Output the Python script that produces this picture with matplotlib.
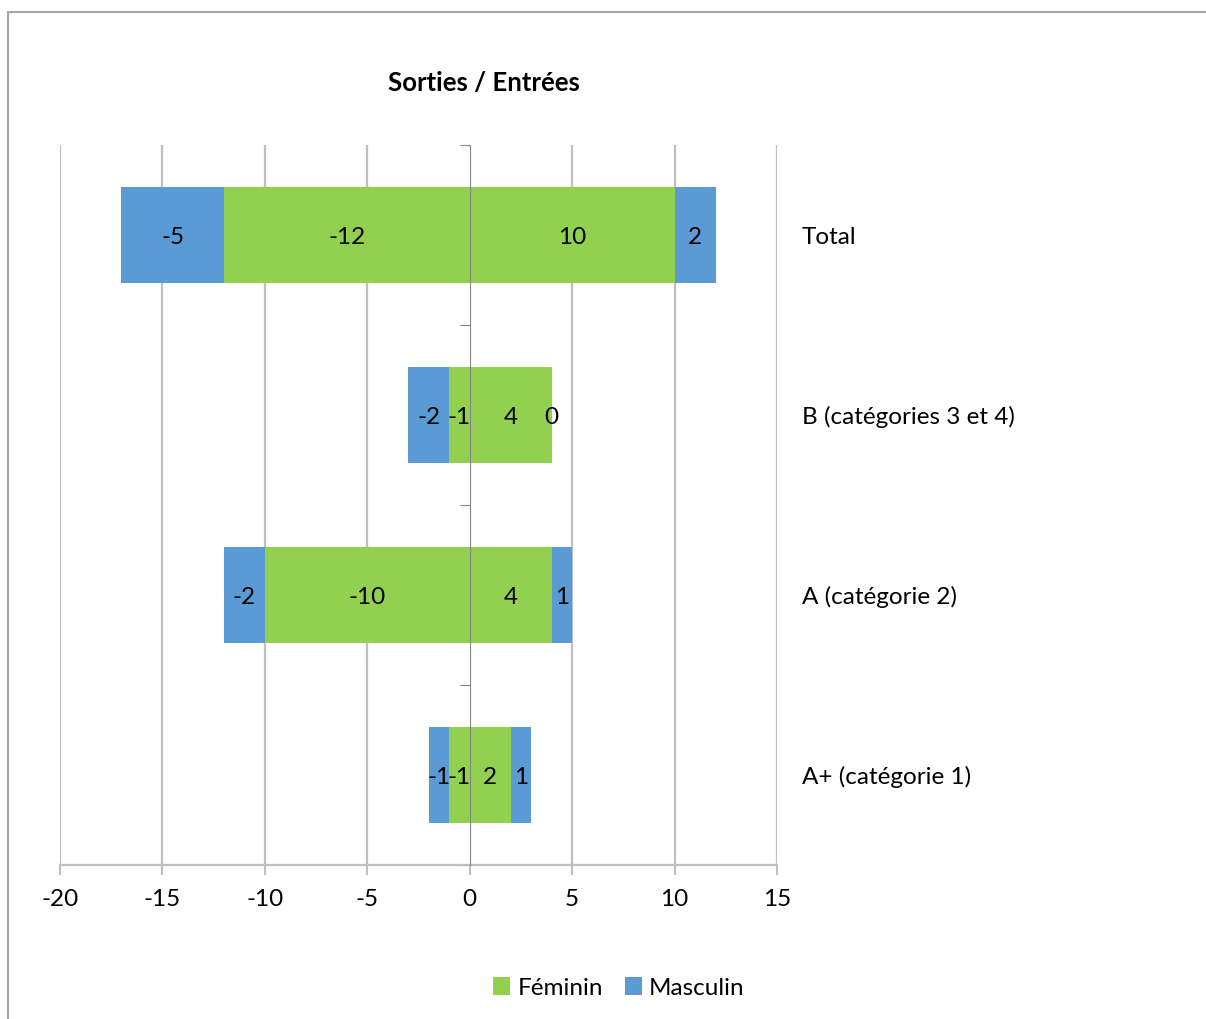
import matplotlib
matplotlib.use('Agg')
import matplotlib.pyplot as plt
from matplotlib.patches import Rectangle
import matplotlib.transforms as mtransforms

plt.rcParams['font.family'] = ['Lato', 'DejaVu Sans']
plt.rcParams['axes.unicode_minus'] = False

# sorties (negative) / entrées (positive) by category and sex
categories = ['A+ (catégorie 1)', 'A (catégorie 2)', 'B (catégories 3 et 4)', 'Total']
fem_out = [-1, -10, -1, -12]
masc_out = [-1, -2, -2, -5]
fem_in = [2, 4, 4, 10]
masc_in = [1, 1, 0, 2]

green = '#92D050'
blue = '#5B9BD5'
fs = 17.5

fig = plt.figure(figsize=(12.06, 10.19), dpi=100)
ax = fig.add_axes([60/1206, 1 - 865/1019, 717/1206, 720/1019])

y = range(len(categories))
h = 0.535
b1 = ax.barh(y, fem_out, height=h, color=green, label='Féminin', zorder=3)
b2 = ax.barh(y, masc_out, left=fem_out, height=h, color=blue, label='Masculin', zorder=3)
b3 = ax.barh(y, fem_in, height=h, color=green, zorder=3)
b4 = ax.barh(y, masc_in, left=fem_in, height=h, color=blue, zorder=3)
for bars in (b1, b2, b3, b4):
    lbls = ax.bar_label(bars, label_type='center', fontsize=fs, zorder=5)
    for t in lbls:
        t.set_va('center_baseline')

ax.set_xlim(-20, 15)
ax.set_ylim(-0.5, 3.5)
ax.set_xticks(range(-20, 16, 5))
ax.tick_params(axis='x', labelsize=fs, length=7, width=1.5, color='#BFBFBF', pad=10)
for v in range(-20, 16, 5):
    if v != 0:
        ax.axvline(v, color='#BFBFBF', lw=1.6, zorder=1)

# vertical axis drawn through zero
for s in ['top', 'right']:
    ax.spines[s].set_visible(False)
ax.spines['left'].set_position(('data', 0))
ax.spines['left'].set_color('#868686')
ax.spines['left'].set_zorder(4)
ax.spines['bottom'].set_color('#BFBFBF')
ax.spines['bottom'].set_linewidth(1.6)
ax.set_yticks([-0.5, 0.5, 1.5, 2.5, 3.5])
ax.set_yticklabels([])
ax.tick_params(axis='y', length=7, color='#868686')

trans = mtransforms.blended_transform_factory(ax.transAxes, ax.transData)
for i, c in enumerate(categories):
    ax.text(1.035, i, c, transform=trans, ha='left', va='center_baseline', fontsize=fs)

fig.text(484/1206, 1 - 83/1019, 'Sorties / Entrées', ha='center', va='center',
         fontsize=18.5, fontweight='bold')

fig.legend(handles=[b1, b2], loc='center', bbox_to_anchor=(619/1206, 1 - 988/1019),
           ncol=2, frameon=False, fontsize=fs, handlelength=0.7, handleheight=0.7,
           handletextpad=0.3, columnspacing=0.9)

fig.patches.append(Rectangle((8/1206, -0.1), 1.2, 1 - 12/1019 + 0.1,
                             transform=fig.transFigure, fill=False,
                             edgecolor='#A6A6A6', lw=1.5))

fig.savefig('out.png', dpi=100)
